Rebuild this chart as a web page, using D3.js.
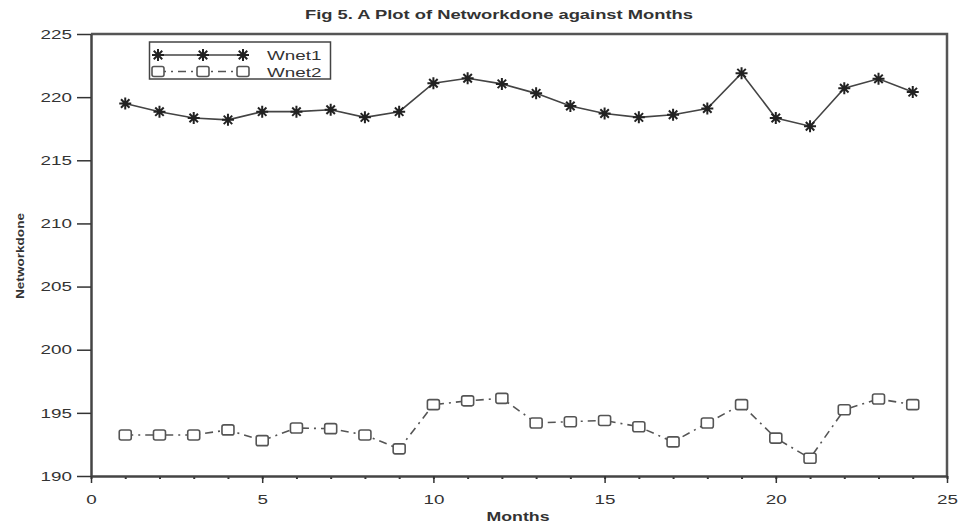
<!DOCTYPE html>
<html lang="en">
<head>
    <meta charset="UTF-8">
    <title>Fig 5. A Plot of Networkdone against Months</title>
    <script src="https://d3js.org/d3.v7.min.js"></script>
    <style>
        body {
          margin: 0;
          background: #fff;
        }
        svg text {
          font-family: "Liberation Sans", Arial, sans-serif;
          fill: #333;
        }
    </style>
</head>
<body>
<div id="chart"></div>

<script>
    // data
    const months = d3.range(1, 25);
    const wnet1 = [219.5, 218.85, 218.35, 218.2, 218.85, 218.85, 219.0, 218.4, 218.85, 221.1, 221.5, 221.05,
                   220.3, 219.3, 218.7, 218.4, 218.6, 219.1, 221.9, 218.35, 217.7, 220.7, 221.45, 220.4];
    const wnet2 = [193.25, 193.25, 193.25, 193.65, 192.8, 193.8, 193.75, 193.25, 192.15, 195.65, 195.95, 196.15,
                   194.2, 194.3, 194.4, 193.9, 192.7, 194.2, 195.65, 193.0, 191.4, 195.25, 196.1, 195.65];
    const seriesNames = ["Wnet1", "Wnet2"];
    const xTicks = [0, 5, 10, 15, 20, 25];
    const yTicks = [190, 195, 200, 205, 210, 215, 220, 225];

    const width = 959, height = 526;
    const plotLeft = 91, plotRight = 947, plotTop = 34, plotBottom = 476;
    const sx = 1.45; // the picture text is stretched sideways

    const x = d3.scaleLinear().domain([0, 25]).range([plotLeft, plotRight]);
    const y = d3.scaleLinear().domain([190, 225]).range([plotBottom, plotTop]);

    const svg = d3.select("#chart").append("svg")
        .attr("width", width)
        .attr("height", height);

    svg.append("rect").attr("width", width).attr("height", height).attr("fill", "#fff");

    // frame (top and right)
    svg.append("path")
        .attr("d", `M${plotLeft},${plotTop}H${plotRight}V${plotBottom}`)
        .attr("fill", "none")
        .attr("stroke", "#555")
        .attr("stroke-width", 2.5);

    // x axis, minor ticks every month
    svg.append("g")
        .attr("transform", `translate(0,${plotBottom})`)
        .call(d3.axisBottom(x).tickValues(d3.range(0, 26)).tickSize(3).tickFormat(""))
        .call(g => g.select(".domain").remove())
        .call(g => g.selectAll("line").attr("stroke", "#333").attr("stroke-width", 2));

    const xAxis = svg.append("g")
        .attr("transform", `translate(0,${plotBottom})`)
        .call(d3.axisBottom(x).tickValues(xTicks).tickSize(7).tickPadding(12).tickSizeOuter(0));
    xAxis.select(".domain").attr("stroke", "#444").attr("stroke-width", 2.5);
    xAxis.selectAll("line").attr("stroke", "#333").attr("stroke-width", 1.5);
    xAxis.selectAll("text")
        .attr("font-size", 13)
        .attr("fill", "#333")
        .attr("transform", `scale(${sx},1)`);

    const yAxis = svg.append("g")
        .attr("transform", `translate(${plotLeft},0)`)
        .call(d3.axisLeft(y).tickValues(yTicks).tickSize(14).tickSizeOuter(0));
    yAxis.select(".domain").attr("stroke", "#444").attr("stroke-width", 2.5);
    yAxis.selectAll("line").attr("stroke", "#333").attr("stroke-width", 1.5);
    yAxis.selectAll("text")
        .attr("font-size", 13)
        .attr("fill", "#333")
        .attr("x", -19 / sx)
        .attr("transform", `scale(${sx},1)`);

    // titles
    svg.append("text")
        .attr("x", 499).attr("y", 19)
        .attr("text-anchor", "middle")
        .attr("font-size", 12)
        .attr("font-weight", "bold")
        .attr("textLength", 388)
        .attr("lengthAdjust", "spacingAndGlyphs")
        .text("Fig 5. A Plot of Networkdone against Months");

    svg.append("text")
        .attr("x", 518).attr("y", 521)
        .attr("text-anchor", "middle")
        .attr("font-size", 12)
        .attr("font-weight", "bold")
        .attr("textLength", 63)
        .attr("lengthAdjust", "spacingAndGlyphs")
        .text("Months");

    svg.append("text")
        .attr("transform", "translate(24,256) rotate(-90)")
        .attr("text-anchor", "middle")
        .attr("font-size", 10)
        .attr("font-weight", "bold")
        .attr("textLength", 86)
        .attr("lengthAdjust", "spacingAndGlyphs")
        .text("Networkdone");

    // markers
    function asterisk(r) {
        const a = r * Math.SQRT1_2;
        return `M${-r},0H${r}M0,${-r}V${r}M${-a},${-a}L${a},${a}M${-a},${a}L${a},${-a}`;
    }

    function drawStar(g, cx, cy) {
        g.append("path")
            .attr("transform", `translate(${cx},${cy})`)
            .attr("d", asterisk(6))
            .attr("stroke", "#222")
            .attr("stroke-width", 2)
            .attr("fill", "none");
    }

    function drawSquare(g, cx, cy) {
        g.append("rect")
            .attr("x", cx - 6).attr("y", cy - 5)
            .attr("width", 12).attr("height", 10)
            .attr("rx", 2)
            .attr("fill", "#fff")
            .attr("stroke", "#555")
            .attr("stroke-width", 1.6);
    }

    const line = d3.line().x(d => x(d[0])).y(d => y(d[1]));
    const data1 = months.map((m, i) => [m, wnet1[i]]);
    const data2 = months.map((m, i) => [m, wnet2[i]]);

    svg.append("path")
        .datum(data1)
        .attr("d", line)
        .attr("fill", "none")
        .attr("stroke", "#444")
        .attr("stroke-width", 1.6);

    svg.append("path")
        .datum(data2)
        .attr("d", line)
        .attr("fill", "none")
        .attr("stroke", "#555")
        .attr("stroke-width", 1.6)
        .attr("stroke-dasharray", "8,5,2,5");

    const m1 = svg.append("g");
    data1.forEach(d => drawStar(m1, x(d[0]), y(d[1])));
    const m2 = svg.append("g");
    data2.forEach(d => drawSquare(m2, x(d[0]), y(d[1])));

    // legend
    const legend = svg.append("g");
    legend.append("rect")
        .attr("x", 149.5).attr("y", 42)
        .attr("width", 181).attr("height", 37)
        .attr("fill", "#fff")
        .attr("stroke", "#444")
        .attr("stroke-width", 1.5);

    const lx = [158, 203, 243];
    const rows = [55, 71.5];
    legend.append("line")
        .attr("x1", lx[0]).attr("x2", lx[2]).attr("y1", rows[0]).attr("y2", rows[0])
        .attr("stroke", "#444").attr("stroke-width", 1.6);
    legend.append("line")
        .attr("x1", lx[0]).attr("x2", lx[2]).attr("y1", rows[1]).attr("y2", rows[1])
        .attr("stroke", "#555").attr("stroke-width", 1.6)
        .attr("stroke-dasharray", "8,5,2,5");
    lx.forEach(px => drawStar(legend, px, rows[0]));
    lx.forEach(px => drawSquare(legend, px, rows[1]));

    seriesNames.forEach((name, i) => {
        legend.append("text")
            .attr("transform", `translate(267,${rows[i] + 5}) scale(${sx},1)`)
            .attr("font-size", 13)
            .text(name);
    });
</script>
</body>
</html>
